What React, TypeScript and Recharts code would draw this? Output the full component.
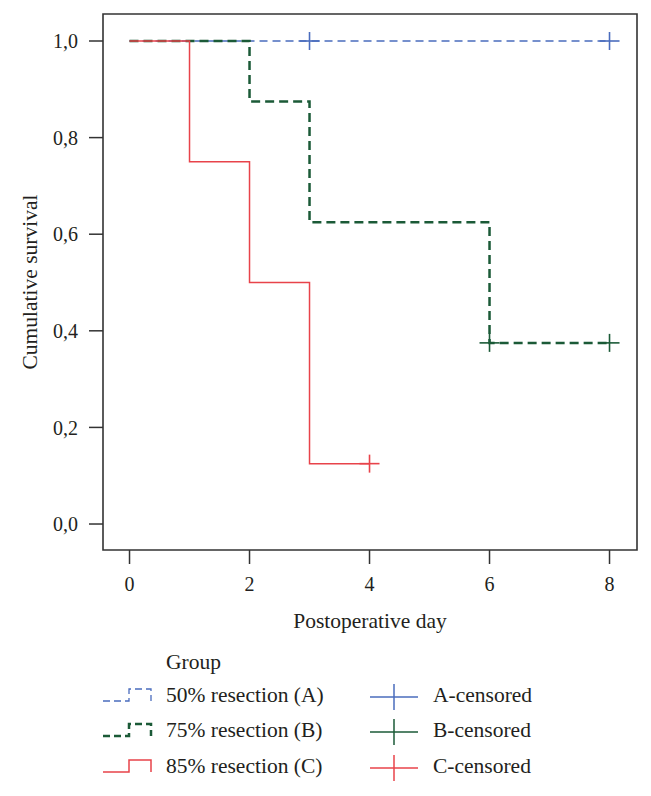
import { ComposedChart, Line, Scatter, XAxis, YAxis, ReferenceArea } from "recharts";

// Kaplan-Meier step data (day, cumulative survival)
const daysA = [0, 8];
const survA = [1, 1];
const daysB = [0, 2, 3, 6, 8];
const survB = [1, 0.875, 0.625, 0.375, 0.375];
const daysC = [0, 1, 2, 3, 4];
const survC = [1, 0.75, 0.5, 0.125, 0.125];

// censored observations
const censDaysA = [3, 8];
const censSurvA = [1, 1];
const censDaysB = [6, 8];
const censSurvB = [0.375, 0.375];
const censDaysC = [4];
const censSurvC = [0.125];

const xTicks = [0, 2, 4, 6, 8];
const yTicks = [0, 0.2, 0.4, 0.6, 0.8, 1.0];

const groupNames = ["50% resection (A)", "75% resection (B)", "85% resection (C)"];
const censorNames = ["A-censored", "B-censored", "C-censored"];

const BLUE = "#4a6cbd";
const GREEN = "#1b5a37";
const RED = "#e8434a";
const INK = "#231f20";
const FONT = "'Liberation Serif', 'DejaVu Serif', serif";
const TICK_SIZE = 20;
const TEXT_SIZE = 21.5;

const X_DOMAIN = [-0.442, 8.458];
const Y_DOMAIN = [-0.0538, 1.0559];

const zip = (t: number[], s: number[]) => t.map((d, i) => ({ t: d, s: s[i] }));

const seriesStyle = [
    { color: BLUE, width: 1.3, dash: "8 5" },
    { color: GREEN, width: 2.5, dash: "9 5" },
    { color: RED, width: 1.5, dash: undefined as string | undefined },
];

function crossShape(color: string) {
    return (props: any) => {
        const { cx, cy } = props;
        return (
            <g stroke={color} strokeWidth={1.6}>
                <line x1={cx - 10} x2={cx + 10} y1={cy} y2={cy} />
                <line x1={cx} x2={cx} y1={cy - 9} y2={cy + 9} />
            </g>
        );
    };
}

function Legend() {
    const rowBase = [702, 737, 773];
    return (
        <svg width={651} height={796} style={{ position: "absolute", left: 0, top: 0, pointerEvents: "none" }}>
            <text x={166} y={669} fontFamily={FONT} fontSize={TEXT_SIZE} fill={INK}>Group</text>
            {groupNames.map((name, i) => {
                const st = seriesStyle[i];
                const b = rowBase[i] - 1;
                return (
                    <g key={name}>
                        <path
                            d={`M103,${b} H129 V${b - 12} H151 V${b}`}
                            fill="none"
                            stroke={st.color}
                            strokeWidth={st.width}
                            strokeDasharray={st.dash ? "7 4" : undefined}
                        />
                        <text x={166} y={rowBase[i]} fontFamily={FONT} fontSize={TEXT_SIZE} fill={INK}>{name}</text>
                    </g>
                );
            })}
            {censorNames.map((name, i) => {
                const c = seriesStyle[i].color;
                const cy = rowBase[i] - 5;
                return (
                    <g key={name}>
                        <g stroke={c} strokeWidth={1.5}>
                            <line x1={370} x2={418} y1={cy} y2={cy} />
                            <line x1={394} x2={394} y1={cy - 13} y2={cy + 13} />
                        </g>
                        <text x={433} y={rowBase[i]} fontFamily={FONT} fontSize={TEXT_SIZE} fill={INK}>{name}</text>
                    </g>
                );
            })}
        </svg>
    );
}

export default function App() {
    const lines = [zip(daysA, survA), zip(daysB, survB), zip(daysC, survC)];
    const censored = [zip(censDaysA, censSurvA), zip(censDaysB, censSurvB), zip(censDaysC, censSurvC)];

    return (
        <div style={{ position: "absolute", left: 0, top: 0, width: 651, height: 796, background: "#fff" }}>
            <ComposedChart
                width={651}
                height={640}
                margin={{ top: 14, right: 14, left: 0, bottom: 0 }}
                style={{ fontFamily: FONT }}
            >
                <ReferenceArea
                    x1={X_DOMAIN[0]}
                    x2={X_DOMAIN[1]}
                    y1={Y_DOMAIN[0]}
                    y2={Y_DOMAIN[1]}
                    fill="none"
                    stroke="#333"
                    strokeWidth={1.6}
                    ifOverflow="visible"
                />
                <XAxis
                    type="number"
                    dataKey="t"
                    domain={X_DOMAIN}
                    allowDataOverflow
                    ticks={xTicks}
                    axisLine={false}
                    tickSize={14}
                    tickMargin={13}
                    tickLine={{ stroke: "#333", strokeWidth: 1.5 }}
                    tick={{ fill: INK, fontSize: TICK_SIZE, fontFamily: FONT }}
                    height={90}
                    label={{ value: "Postoperative day", position: "insideBottom", offset: 12, fill: INK, fontSize: TEXT_SIZE, fontFamily: FONT }}
                />
                <YAxis
                    type="number"
                    dataKey="s"
                    domain={Y_DOMAIN}
                    allowDataOverflow
                    ticks={yTicks}
                    axisLine={false}
                    tickSize={14}
                    tickMargin={11}
                    tickLine={{ stroke: "#333", strokeWidth: 1.5 }}
                    tick={{ fill: INK, fontSize: TICK_SIZE, fontFamily: FONT }}
                    tickFormatter={(v: number) => v.toFixed(1).replace(".", ",")}
                    width={103}
                    label={{ value: "Cumulative survival", angle: -90, position: "insideLeft", offset: 29, fill: INK, fontSize: TEXT_SIZE, fontFamily: FONT, style: { textAnchor: "middle" } }}
                />
                {lines.map((d, i) => (
                    <Line
                        key={"l" + i}
                        data={d}
                        dataKey="s"
                        type="stepAfter"
                        stroke={seriesStyle[i].color}
                        strokeWidth={seriesStyle[i].width}
                        strokeDasharray={seriesStyle[i].dash}
                        dot={false}
                        activeDot={false}
                        isAnimationActive={false}
                    />
                ))}
                {censored.map((d, i) => (
                    <Scatter
                        key={"c" + i}
                        data={d}
                        dataKey="s"
                        shape={crossShape(seriesStyle[i].color)}
                        isAnimationActive={false}
                    />
                ))}
            </ComposedChart>
            <Legend />
        </div>
    );
}
